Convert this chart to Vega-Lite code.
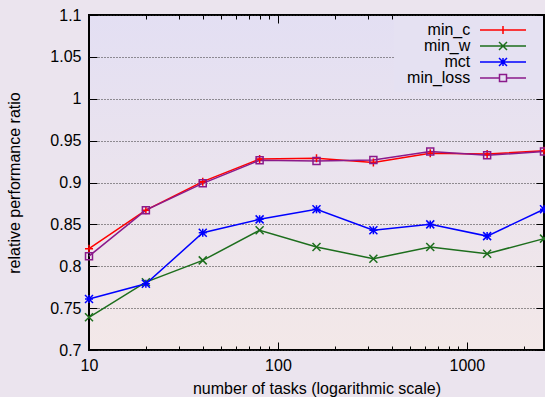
{
  "$schema": "https://vega.github.io/schema/vega-lite/v6.json",
  "width": 455,
  "height": 335,
  "autosize": {"type": "none"},
  "padding": {"left": 89, "top": 15, "right": 1, "bottom": 47},
  "background": "#ebe4ee",
  "data": {
    "values": [
      {"series": "min_c", "n": 10, "v": 0.821},
      {"series": "min_c", "n": 20, "v": 0.867},
      {"series": "min_c", "n": 40, "v": 0.901},
      {"series": "min_c", "n": 80, "v": 0.928},
      {"series": "min_c", "n": 160, "v": 0.929},
      {"series": "min_c", "n": 320, "v": 0.924},
      {"series": "min_c", "n": 640, "v": 0.935},
      {"series": "min_c", "n": 1280, "v": 0.934},
      {"series": "min_c", "n": 2560, "v": 0.938},
      {"series": "min_w", "n": 10, "v": 0.739},
      {"series": "min_w", "n": 20, "v": 0.781},
      {"series": "min_w", "n": 40, "v": 0.807},
      {"series": "min_w", "n": 80, "v": 0.843},
      {"series": "min_w", "n": 160, "v": 0.823},
      {"series": "min_w", "n": 320, "v": 0.809},
      {"series": "min_w", "n": 640, "v": 0.823},
      {"series": "min_w", "n": 1280, "v": 0.815},
      {"series": "min_w", "n": 2560, "v": 0.833},
      {"series": "mct", "n": 10, "v": 0.761},
      {"series": "mct", "n": 20, "v": 0.779},
      {"series": "mct", "n": 40, "v": 0.840},
      {"series": "mct", "n": 80, "v": 0.856},
      {"series": "mct", "n": 160, "v": 0.868},
      {"series": "mct", "n": 320, "v": 0.843},
      {"series": "mct", "n": 640, "v": 0.850},
      {"series": "mct", "n": 1280, "v": 0.836},
      {"series": "mct", "n": 2560, "v": 0.868},
      {"series": "min_loss", "n": 10, "v": 0.812},
      {"series": "min_loss", "n": 20, "v": 0.867},
      {"series": "min_loss", "n": 40, "v": 0.899},
      {"series": "min_loss", "n": 80, "v": 0.9265},
      {"series": "min_loss", "n": 160, "v": 0.9257},
      {"series": "min_loss", "n": 320, "v": 0.927},
      {"series": "min_loss", "n": 640, "v": 0.937},
      {"series": "min_loss", "n": 1280, "v": 0.9325},
      {"series": "min_loss", "n": 2560, "v": 0.937}
    ]
  },
  "encoding": {
    "x": {"field": "n", "type": "quantitative", "scale": {"type": "log", "domain": [10, 2560], "nice": false}, "axis": null},
    "y": {"field": "v", "type": "quantitative", "scale": {"domain": [0.7, 1.1], "nice": false, "zero": false}, "axis": null}
  },
  "layer": [
    {
      "mark": {"type": "line", "strokeWidth": 1.5},
      "encoding": {
        "x": {
          "field": "n", "type": "quantitative",
          "scale": {"type": "log", "domain": [10, 2560], "nice": false},
          "axis": {
            "orient": "bottom",
            "values": [10, 20, 30, 40, 50, 60, 70, 80, 90, 100, 200, 300, 400, 500, 600, 700, 800, 900, 1000, 2000],
            "labelExpr": "indexof([10,100,1000], datum.value) >= 0 ? datum.value + '' : ''",
            "tickSize": {"condition": {"test": "indexof([10,100,1000], datum.value) >= 0", "value": -8}, "value": -4},
            "labelPadding": 15,
            "labelFlush": false,
            "labelOverlap": false,
            "domain": false,
            "grid": false,
            "title": "number of tasks (logarithmic scale)",
            "titlePadding": 3
          }
        },
        "y": {
          "field": "v", "type": "quantitative",
          "scale": {"domain": [0.7, 1.1], "nice": false, "zero": false},
          "axis": {
            "orient": "left",
            "values": [0.7, 0.75, 0.8, 0.85, 0.9, 0.95, 1, 1.05, 1.1],
            "format": "~g",
            "tickSize": -8,
            "labelPadding": 16,
            "labelFlush": false,
            "labelOverlap": false,
            "domain": false,
            "grid": true,
            "gridDash": [1, 2],
            "gridColor": "#333333",
            "gridWidth": 1,
            "title": "relative performance ratio",
            "titlePadding": 27
          }
        },
        "color": {
          "field": "series", "type": "nominal",
          "scale": {"domain": ["min_c", "min_w", "mct", "min_loss"], "range": ["#ff0000", "#1d6e1d", "#0000ff", "#8b1a8b"]},
          "legend": {
            "title": null,
            "orient": "top-right",
            "offset": 1,
            "padding": 6,
            "fillColor": "#e5e1f2",
            "rowPadding": 0,
            "symbolSize": 196,
            "symbolOffset": 60,
            "symbolStrokeWidth": 1.5,
            "labelFont": "Liberation Sans",
            "labelFontSize": 16,
            "labelColor": "#000000",
            "labelAlign": "right",
            "labelOffset": -5.75,
            "encode": {
              "symbols": {
                "update": {
                  "shape": {"signal": "datum.value === 'min_c' ? 'M1.714,0H8.286M5,-0.571V0.571M9.36,0L9.36,0' : datum.value === 'min_w' ? 'M1.714,0H8.286M4.429,-0.571L5.571,0.571M4.429,0.571L5.571,-0.571M9.36,0L9.36,0' : datum.value === 'mct' ? 'M1.714,0H8.286M5,-0.571V0.571M4.429,-0.571L5.571,0.571M4.429,0.571L5.571,-0.571M9.36,0L9.36,0' : 'M1.714,0H4.5M5.5,0H8.286M4.5,-0.5H5.5V0.5H4.5ZM9.36,0L9.36,0'"},
                  "fill": {"value": "transparent"}
                }
              }
            }
          }
        }
      }
    },
    {
      "transform": [{"filter": "datum.series === 'min_c'"}],
      "mark": {"type": "point", "filled": false, "size": 64, "strokeWidth": 1.5, "opacity": 1, "color": "#ff0000", "shape": "M-1,0H1M0,-1V1"},
      "encoding": {
        "x": {
          "field": "n", "type": "quantitative",
          "scale": {"type": "log", "domain": [10, 2560], "nice": false},
          "axis": {
            "orient": "top",
            "values": [10, 20, 30, 40, 50, 60, 70, 80, 90, 100, 200, 300, 400, 500, 600, 700, 800, 900, 1000, 2000],
            "tickSize": {"condition": {"test": "indexof([10,100,1000], datum.value) >= 0", "value": -8}, "value": -4},
            "labels": false,
            "domain": false,
            "grid": false,
            "title": null
          }
        },
        "y": {
          "field": "v", "type": "quantitative",
          "scale": {"domain": [0.7, 1.1], "nice": false, "zero": false},
          "axis": {
            "orient": "right",
            "values": [0.7, 0.75, 0.8, 0.85, 0.9, 0.95, 1, 1.05, 1.1],
            "tickSize": -8,
            "labels": false,
            "domain": false,
            "grid": false,
            "title": null
          }
        }
      }
    },
    {
      "transform": [{"filter": "datum.series === 'min_w'"}],
      "mark": {"type": "point", "filled": false, "size": 64, "strokeWidth": 1.5, "opacity": 1, "color": "#1d6e1d", "shape": "M-1,-1L1,1M-1,1L1,-1"}
    },
    {
      "transform": [{"filter": "datum.series === 'mct'"}],
      "mark": {"type": "point", "filled": false, "size": 64, "strokeWidth": 1.5, "opacity": 1, "color": "#0000ff", "shape": "M-1,0H1M0,-1V1M-1,-1L1,1M-1,1L1,-1"}
    },
    {
      "transform": [{"filter": "datum.series === 'min_loss'"}],
      "mark": {"type": "point", "filled": false, "size": 64, "strokeWidth": 1.5, "opacity": 1, "color": "#8b1a8b", "shape": "M-0.875,-0.875H0.875V0.875H-0.875Z"}
    }
  ],
  "resolve": {"axis": {"x": "independent", "y": "independent"}},
  "config": {
    "view": {
      "stroke": "#000000",
      "strokeWidth": 2,
      "fill": {"expr": "{gradient: 'linear', x1: 0, y1: 0, x2: 0.000001, y2: 1, stops: [{offset: 0, color: '#e3dff3'}, {offset: 1, color: '#f3e8e8'}]}"}
    },
    "axis": {
      "labelFont": "Liberation Sans",
      "labelFontSize": 16,
      "labelColor": "#000000",
      "titleFont": "Liberation Sans",
      "titleFontSize": 16,
      "titleFontWeight": "normal",
      "titleColor": "#000000",
      "tickColor": "#000000",
      "tickWidth": 1
    }
  }
}
